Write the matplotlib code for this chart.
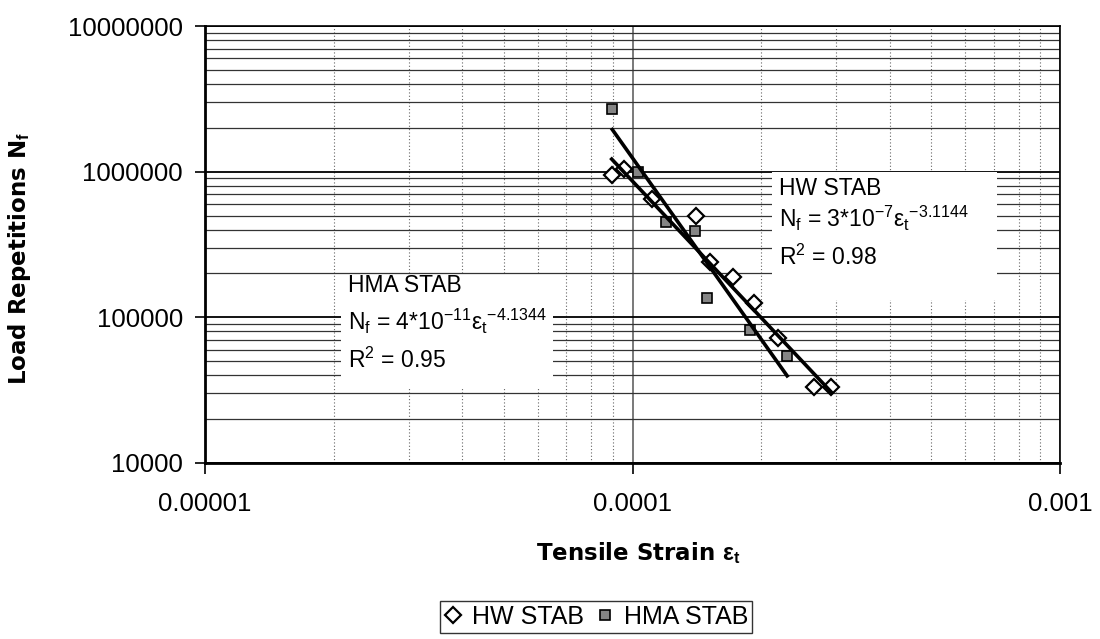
import numpy as np
import matplotlib.pyplot as plt
from matplotlib.ticker import FixedLocator, FixedFormatter, LogLocator, NullFormatter
from matplotlib.patches import Rectangle

plt.rcParams['font.family'] = ['Liberation Sans', 'DejaVu Sans']
plt.rcParams['mathtext.fontset'] = 'custom'
plt.rcParams['mathtext.rm'] = 'Liberation Sans'
plt.rcParams['mathtext.it'] = 'Liberation Sans:italic'
plt.rcParams['mathtext.bf'] = 'Liberation Sans:bold'

# data
hw_strain = [8.94e-5, 9.55e-5, 1.11e-4, 1.41e-4, 1.52e-4, 1.72e-4, 1.92e-4, 2.19e-4, 2.66e-4, 2.92e-4]
hw_reps = [9.5e5, 1.04e6, 6.5e5, 5.0e5, 2.4e5, 1.9e5, 1.25e5, 7.2e4, 3.3e4, 3.3e4]
hma_strain = [8.97e-5, 1.03e-4, 1.2e-4, 1.4e-4, 1.49e-4, 1.88e-4, 2.3e-4]
hma_reps = [2.69e6, 1.0e6, 4.5e5, 3.9e5, 1.35e5, 8.2e4, 5.4e4]

# power trendlines (coefficient as drawn; the label shows it rounded)
hw_a, hw_b = 3e-7, -3.1144
hma_a, hma_b = 3.6e-11, -4.1344

xticks = [1e-5, 1e-4, 1e-3]
xlabels = ['0.00001', '0.0001', '0.001']
yticks = [1e4, 1e5, 1e6, 1e7]
ylabels = ['10000', '100000', '1000000', '10000000']

fig = plt.figure(figsize=(11, 6.39), dpi=100)
ax = fig.add_axes([205/1100, 1-463/639, 855/1100, 437/639])
ax.set_xscale('log')
ax.set_yscale('log')
ax.set_xlim(1e-5, 1e-3)
ax.set_ylim(1e4, 1e7)

ax.xaxis.set_major_locator(FixedLocator(xticks))
ax.xaxis.set_major_formatter(FixedFormatter(xlabels))
ax.yaxis.set_major_locator(FixedLocator(yticks))
ax.yaxis.set_major_formatter(FixedFormatter(ylabels))
ax.xaxis.set_minor_locator(LogLocator(base=10, subs=range(2, 10)))
ax.yaxis.set_minor_locator(LogLocator(base=10, subs=range(2, 10)))
ax.xaxis.set_minor_formatter(NullFormatter())
ax.yaxis.set_minor_formatter(NullFormatter())
ax.tick_params(which='minor', length=0)
ax.tick_params(axis='x', which='major', length=8, width=1.2, pad=13, labelsize=18.5)
ax.tick_params(axis='y', which='major', length=7, width=1.2, pad=9, labelsize=18.5)

ax.grid(which='major', axis='y', color='black', lw=1.3)
ax.grid(which='minor', axis='y', color='#333333', lw=0.9)
ax.grid(which='major', axis='x', color='#555555', lw=1.1)
ax.grid(which='minor', axis='x', color='#666666', lw=0.8, linestyle=(0, (1, 2)))
ax.set_axisbelow(True)

for s in ['left', 'bottom']:
    ax.spines[s].set_linewidth(2)
for s in ['top', 'right']:
    ax.spines[s].set_linewidth(1.2)

# white label boxes over the grid
ax.add_patch(Rectangle((772/1100, 1-300/639), 225/1100, 128/639, transform=fig.transFigure,
                       facecolor='white', edgecolor='none', zorder=1))
ax.add_patch(Rectangle((341/1100, 1-388/639), 212/1100, 113/639, transform=fig.transFigure,
                       facecolor='white', edgecolor='none', zorder=1))

ax.plot(hw_strain, hw_reps, linestyle='none', marker='D', ms=8.5, mfc='white', mec='black',
        mew=1.6, zorder=2, label='HW STAB')
ax.plot(hma_strain, hma_reps, linestyle='none', marker='s', ms=7, mfc='#858585', mec='black',
        mew=1.2, zorder=2, label='HMA STAB')

xs = np.geomspace(min(hw_strain), max(hw_strain), 50)
ax.plot(xs, hw_a * xs ** hw_b, color='black', lw=2.6, zorder=3)
xs = np.geomspace(min(hma_strain), max(hma_strain), 50)
ax.plot(xs, hma_a * xs ** hma_b, color='black', lw=2.6, zorder=3)

fs = 16.5
ax.text(0.6713, 0.6125, 'HW STAB', transform=ax.transAxes, fontsize=fs, va='baseline', zorder=4)
ax.text(0.6713, 0.5390, r'N$_\mathrm{f}$ = 3*10$^{-7}$$\mathrm{\varepsilon_t}^{-3.1144}$',
        transform=ax.transAxes, fontsize=fs, va='baseline', zorder=4)
ax.text(0.6713, 0.4531, r'R$^2$ = 0.98', transform=ax.transAxes, fontsize=fs, va='baseline', zorder=4)

ax.text(0.1673, 0.3910, 'HMA STAB', transform=ax.transAxes, fontsize=fs, va='baseline', zorder=4)
ax.text(0.1673, 0.3040, r'N$_\mathrm{f}$ = 4*10$^{-11}$$\mathrm{\varepsilon_t}^{-4.1344}$',
        transform=ax.transAxes, fontsize=fs, va='baseline', zorder=4)
ax.text(0.1673, 0.2167, r'R$^2$ = 0.95', transform=ax.transAxes, fontsize=fs, va='baseline', zorder=4)

fig.text(638/1100, 1-553/639, r'Tensile Strain $\mathbf{\varepsilon_t}$', fontsize=16.5,
         fontweight='bold', family=['DejaVu Sans'], ha='center', va='center')
fig.text(20/1100, 1-259/639, r'Load Repetitions N$_\mathbf{f}$', fontsize=16.5,
         fontweight='bold', family=['DejaVu Sans'], ha='center', va='center', rotation=90)

leg = fig.legend(loc='center', bbox_to_anchor=(596/1100, 1-617/639), ncol=2, fontsize=18,
                 frameon=True, fancybox=False, edgecolor='black', handlelength=0.7,
                 handletextpad=0.4, columnspacing=0.5, borderpad=0.15)
leg.get_frame().set_linewidth(1.0)

fig.savefig('out.png', dpi=100)
